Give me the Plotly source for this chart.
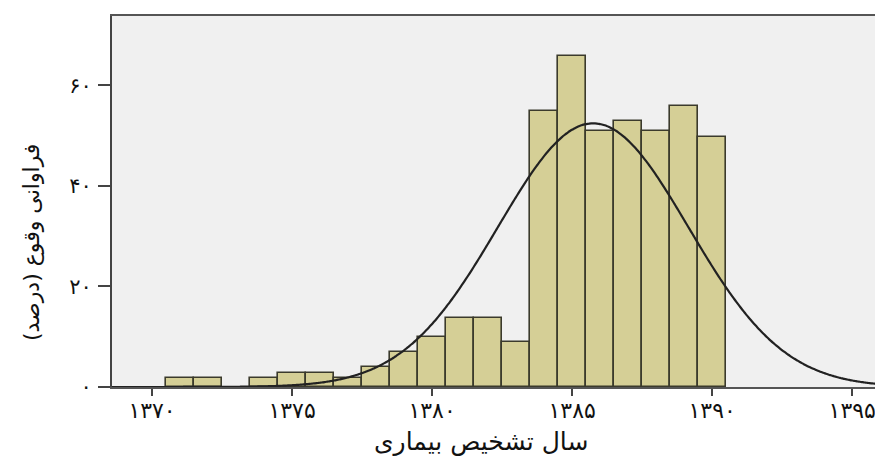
import numpy as np
import plotly.graph_objects as go

# Histogram data (year of diagnosis, bin centers) and heights
years = [1371, 1372, 1374, 1375, 1376, 1377, 1378, 1379, 1380, 1381, 1382, 1383,
         1384, 1385, 1386, 1387, 1388, 1389, 1390]
values = [1.8, 1.8, 1.8, 2.8, 2.8, 1.8, 3.9, 6.9, 9.9, 13.8, 13.8, 8.9,
          55.0, 65.9, 51.0, 53.0, 51.0, 55.8, 49.8]

# Fitted normal curve parameters
curve_mean = 1385.75
curve_sd = 3.4
curve_n = 447.0

x_tick_vals = [1370, 1375, 1380, 1385, 1390, 1395]
x_tick_text = ["۱۳۷۰", "۱۳۷۵", "۱۳۸۰", "۱۳۸۵", "۱۳۹۰", "۱۳۹۵"]
y_tick_vals = [0, 20, 40, 60]
y_tick_text = ["۰", "۲۰", "۴۰", "۶۰"]

x_title = "سال تشخیص بیماری"
y_title = "فراوانی وقوع (درصد)"

x_range = [1368.57, 1396.1]
y_range = [0, 73.8]

cx = np.linspace(x_range[0], x_range[1], 400)
cy = curve_n / (curve_sd * np.sqrt(2 * np.pi)) * np.exp(-0.5 * ((cx - curve_mean) / curve_sd) ** 2)

FONT = "DejaVu Sans"

fig = go.Figure()
fig.add_trace(go.Bar(
    x=years, y=values, width=1.0,
    marker=dict(color="#D5CF96", line=dict(color="#3b3a2c", width=1.6)),
    showlegend=False, hoverinfo="x+y",
))
fig.add_trace(go.Scatter(
    x=cx, y=cy, mode="lines",
    line=dict(color="#222222", width=2.2, shape="spline"),
    showlegend=False, hoverinfo="skip",
))

fig.update_layout(
    width=883, height=461,
    margin=dict(l=104, r=8, t=8, b=82),
    paper_bgcolor="white",
    plot_bgcolor="#F0F0F0",
    bargap=0,
    font=dict(family=FONT, color="#111111"),
    xaxis=dict(
        range=x_range, tickmode="array", tickvals=x_tick_vals, ticktext=x_tick_text,
        showgrid=False, zeroline=False, automargin=False,
        showline=True, linecolor="#555555", linewidth=2, mirror=True,
        ticks="outside", ticklen=7, tickwidth=2, tickcolor="#444444",
        ticklabelstandoff=-4,
        tickfont=dict(family=FONT, size=22, color="#111111"),
    ),
    yaxis=dict(
        range=y_range, tickmode="array", tickvals=y_tick_vals, ticktext=y_tick_text,
        showgrid=False, zeroline=False, automargin=False,
        showline=True, linecolor="#444444", linewidth=2,
        ticks="outside", ticklen=12, tickwidth=1.5, tickcolor="#444444",
        ticklabelstandoff=2,
        tickfont=dict(family=FONT, size=21, color="#111111"),
    ),
    annotations=[
        dict(text=x_title, xref="paper", yref="paper", x=0.4786, y=-0.148,
             xanchor="center", yanchor="middle", showarrow=False,
             font=dict(family=FONT, size=25, color="#111111")),
        dict(text=y_title, xref="paper", yref="paper", x=-0.105, y=0.388,
             xanchor="center", yanchor="middle", showarrow=False, textangle=-90,
             font=dict(family=FONT, size=22, color="#111111")),
    ],
)

fig.write_html("out.html")
